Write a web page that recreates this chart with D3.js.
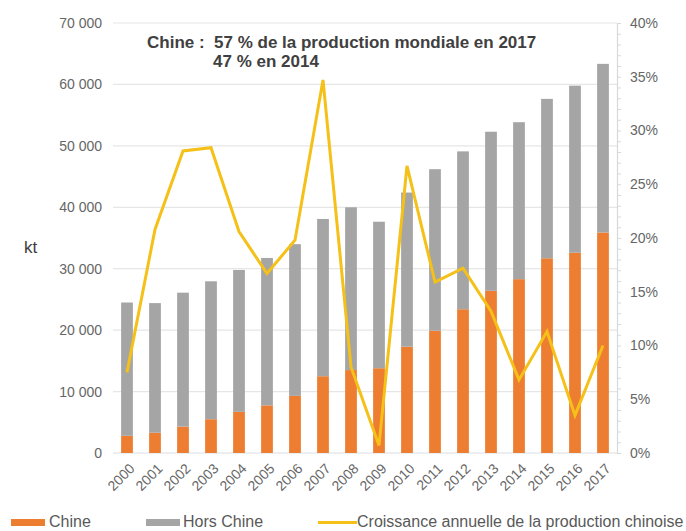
<!DOCTYPE html>
<html>
<head>
<meta charset="utf-8">
<script src="https://cdn.jsdelivr.net/npm/d3@7"></script>
<style>
  body { margin: 0; background: #fff; }
  svg { font-family: "Liberation Sans", Arial, sans-serif; }
</style>
</head>
<body>
<div id="chart"></div>
<script>
// données (kt et %)
const years = ["2000","2001","2002","2003","2004","2005","2006","2007","2008",
               "2009","2010","2011","2012","2013","2014","2015","2016","2017"];
const chine = [2800, 3300, 4300, 5500, 6700, 7750, 9300, 12500, 13500,
               13800, 17300, 19900, 23400, 26400, 28300, 31700, 32600, 35900];
const horsChine = [21700, 21100, 21800, 22450, 23100, 24000, 24700, 25600, 26500,
                   23850, 25100, 26300, 25700, 25900, 25550, 25950, 27200, 27450];
const croissance = [7.5, 20.8, 28.1, 28.4, 20.6, 16.7, 19.8, 34.7, 8.0,
                    0.7, 26.7, 15.9, 17.2, 13.2, 6.8, 11.3, 3.5, 10.0];
const leftTicks = [0, 10000, 20000, 30000, 40000, 50000, 60000, 70000];
const rightTicks = [0, 5, 10, 15, 20, 25, 30, 35, 40];

const width = 686, height = 531;
const margin = {top: 23, right: 69, bottom: 78, left: 113};
const w = width - margin.left - margin.right;
const h = height - margin.top - margin.bottom;

const svg = d3.select("#chart").append("svg")
  .attr("width", width)
  .attr("height", height);

const chart = svg.append("g")
  .attr("transform", `translate(${margin.left}, ${margin.top})`);

// échelles
const x = d3.scaleBand().domain(years).range([0, w]).paddingInner(0.58).paddingOuter(0.29);
const y = d3.scaleLinear().domain([0, 70000]).range([h, 0]);
const y2 = d3.scaleLinear().domain([0, 40]).range([h, 0]);

const fmt = v => d3.format(",")(v).replace(/,/g, " ");

// grille
chart.append("g")
  .selectAll("line")
  .data(leftTicks)
  .join("line")
  .attr("x1", 0).attr("x2", w)
  .attr("y1", d => y(d)).attr("y2", d => y(d))
  .attr("stroke", d => d === 0 ? "#d9dde3" : "#e6e6e6")
  .attr("stroke-width", 1.2);

// axe gauche
const yAxis = chart.append("g")
  .call(d3.axisLeft(y).tickValues(leftTicks).tickFormat(fmt).tickSize(0).tickPadding(11));
yAxis.select(".domain").remove();
yAxis.selectAll("text").attr("font-size", 14).attr("fill", "#666");

// axe droit
const y2Axis = chart.append("g")
  .attr("transform", `translate(${w}, 0)`)
  .call(d3.axisRight(y2).tickValues(d3.range(0, 41, 1)).tickSize(4)
    .tickFormat(d => rightTicks.includes(d) ? d + "%" : ""));
y2Axis.select(".domain").attr("stroke", "#d9d9d9").attr("stroke-width", 1.2);
y2Axis.selectAll(".tick line").attr("stroke", "#d9d9d9");
y2Axis.selectAll("text").attr("font-size", 14).attr("fill", "#666").attr("x", 13);

// axe x
const xAxis = chart.append("g")
  .attr("transform", `translate(0, ${h})`)
  .call(d3.axisBottom(x).tickSize(0).tickPadding(8));
xAxis.select(".domain").remove();
xAxis.selectAll("text")
  .attr("font-size", 14)
  .attr("fill", "#666")
  .attr("text-anchor", "end")
  .attr("dx", "0.2em")
  .attr("dy", "0.6em")
  .attr("transform", "translate(-5, 7) rotate(-45)");

// barres empilées
const stackData = years.map((yr, i) => ({year: yr, chine: chine[i], hors: horsChine[i]}));
const series = d3.stack().keys(["chine", "hors"])(stackData);
const colors = {chine: "#ED7D31", hors: "#A5A5A5"};

chart.append("g")
  .selectAll("g")
  .data(series)
  .join("g")
  .attr("fill", d => colors[d.key])
  .selectAll("rect")
  .data(d => d)
  .join("rect")
  .attr("x", d => x(d.data.year))
  .attr("y", d => y(d[1]))
  .attr("width", x.bandwidth())
  .attr("height", d => y(d[0]) - y(d[1]));

// ligne de croissance
const line = d3.line()
  .x((d, i) => x(years[i]) + x.bandwidth() / 2)
  .y(d => y2(d));

chart.append("path")
  .datum(croissance)
  .attr("fill", "none")
  .attr("stroke", "#F5C018")
  .attr("stroke-width", 3)
  .attr("stroke-linejoin", "miter")
  .attr("d", line);

// titre
svg.append("text")
  .attr("x", 147)
  .attr("y", 48)
  .attr("font-size", 17)
  .attr("font-weight", "bold")
  .attr("fill", "#404040")
  .attr("xml:space", "preserve")
  .text("Chine :  57 % de la production mondiale en 2017");

svg.append("text")
  .attr("x", 213)
  .attr("y", 67)
  .attr("font-size", 17)
  .attr("font-weight", "bold")
  .attr("fill", "#404040")
  .text("47 % en 2014");

// étiquette axe
svg.append("text")
  .attr("x", 24)
  .attr("y", 253)
  .attr("font-size", 17)
  .attr("fill", "#404040")
  .text("kt");

// légende
const legend = svg.append("g");
legend.append("rect").attr("x", 11).attr("y", 519).attr("width", 34).attr("height", 7).attr("fill", colors.chine);
legend.append("text").attr("x", 49).attr("y", 527).attr("font-size", 16).attr("fill", "#595959").text("Chine");
legend.append("rect").attr("x", 146).attr("y", 519).attr("width", 34).attr("height", 7).attr("fill", colors.hors);
legend.append("text").attr("x", 183).attr("y", 527).attr("font-size", 16).attr("fill", "#595959").text("Hors Chine");
legend.append("line").attr("x1", 318).attr("x2", 357).attr("y1", 522.5).attr("y2", 522.5)
  .attr("stroke", "#F5C018").attr("stroke-width", 3);
legend.append("text").attr("x", 357).attr("y", 527).attr("font-size", 16).attr("fill", "#595959")
  .text("Croissance annuelle de la production chinoise");
</script>
</body>
</html>
